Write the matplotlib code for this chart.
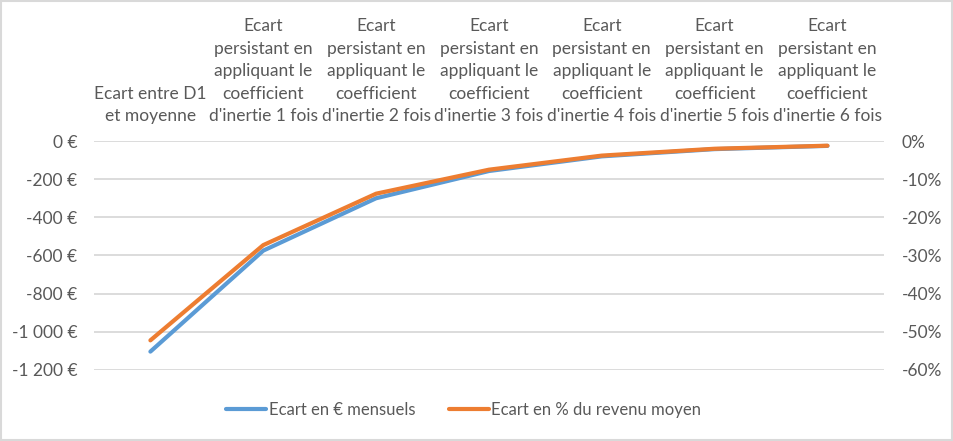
import matplotlib.pyplot as plt
from matplotlib.ticker import FuncFormatter
from matplotlib.patches import Rectangle

plt.rcParams['font.family'] = ['Lato', 'DejaVu Sans']

categories = ["Ecart entre D1\net moyenne"] + [
    "Ecart\npersistant en\nappliquant le\ncoefficient\nd'inertie %d fois" % n for n in range(1, 7)]
ecart_euros = [-1105, -575, -300, -157, -80, -42, -25]
ecart_pct = [-52.3, -27.3, -13.8, -7.5, -3.8, -2.0, -1.2]

blue = '#5B9BD5'
orange = '#ED7D31'
grey_txt = '#595959'
grid_col = '#D9D9D9'
fs = 12.5

fig = plt.figure(figsize=(9.54, 4.41), dpi=100)
ax = fig.add_axes([0.0985, 0.1617, 0.828, 0.5183])
ax2 = ax.twinx()

x = list(range(len(categories)))
l1, = ax.plot(x, ecart_euros, color=blue, lw=3, solid_capstyle='round',
              solid_joinstyle='round', label='Ecart en € mensuels')
l2, = ax2.plot(x, ecart_pct, color=orange, lw=3, solid_capstyle='round',
               solid_joinstyle='round', label='Ecart en % du revenu moyen')

ax.set_xlim(-0.5, len(categories) - 0.5)
ax.set_ylim(-1200, 0)
ax2.set_ylim(-60, 0)
ax.set_yticks(range(-1200, 1, 200))
ax2.set_yticks(range(-60, 1, 10))

def euro(v, pos):
    s = '{:,.0f}'.format(v).replace(',', ' ')
    return s + ' €'

ax.yaxis.set_major_formatter(FuncFormatter(euro))
ax2.yaxis.set_major_formatter(FuncFormatter(lambda v, p: '%d%%' % v))

ax.xaxis.tick_top()
ax.set_xticks(x)
ax.set_xticklabels(categories, multialignment='center', linespacing=1.5)
ax.tick_params(axis='x', length=0, pad=12, labelsize=fs, colors=grey_txt)
ax.tick_params(axis='y', length=0, pad=12, labelsize=fs, colors=grey_txt)
ax2.tick_params(axis='y', length=0, pad=13, labelsize=fs, colors=grey_txt)

ax.grid(axis='y', color=grid_col, lw=1.3)
ax.set_axisbelow(True)
for a in (ax, ax2):
    for s in a.spines.values():
        s.set_visible(False)

fig.legend([l1, l2], [l1.get_label(), l2.get_label()], loc='center',
           bbox_to_anchor=(0.486, 0.07), ncol=2, frameon=False, fontsize=12,
           labelcolor=grey_txt, handlelength=2.4, handletextpad=0.15,
           columnspacing=2.0)

fig.patches.append(Rectangle((0.001, 0.002), 0.997, 0.995, transform=fig.transFigure,
                             fill=False, edgecolor=grid_col, lw=1.5))

fig.savefig('out.png', dpi=100)
